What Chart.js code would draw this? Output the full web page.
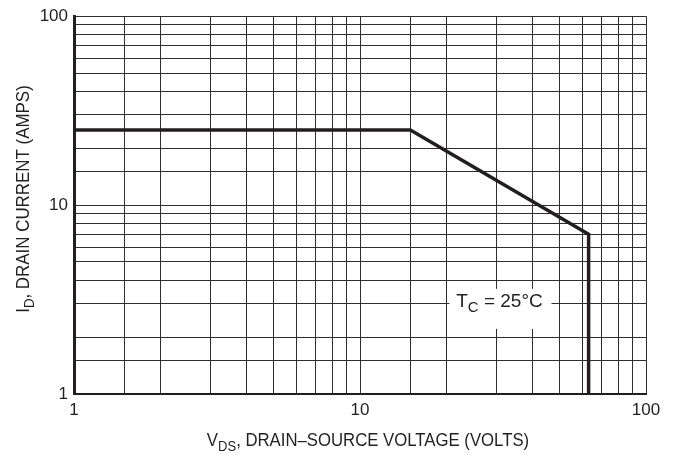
<!DOCTYPE html>
<html>
<head>
<meta charset="utf-8">
<script src="https://cdn.jsdelivr.net/npm/chart.js@4.4.1/dist/chart.umd.min.js"></script>
<style>
  html, body { margin: 0; padding: 0; background: #fff; }
  #wrap { width: 678px; height: 455px; }
</style>
</head>
<body>
<div id="wrap"><canvas id="soa" width="678" height="455"></canvas></div>
<script>
// safe operating area, Tc = 25C
const drainVoltage = [1, 15, 63, 63];
const drainCurrent = [25, 25, 7, 1];

const gridValues = [1, 1.5, 2, 3, 4, 5, 6, 7, 8, 9, 10, 15, 20, 30, 40, 50, 60, 70, 80, 90, 100];
const tickLabels = [1, 10, 100];

const ink = '#231f20';
const fontFamily = "'Liberation Sans', Arial, sans-serif";

// draws centred text made of [string, isSubscript] pieces, slightly condensed
function drawParts(ctx, parts, x, y, size, squeeze) {
    const subSize = Math.round(size * 0.8);
    let total = 0;
    parts.forEach(([s, sub]) => {
        ctx.font = (sub ? subSize : size) + 'px ' + fontFamily;
        total += ctx.measureText(s).width;
    });
    ctx.save();
    ctx.translate(x, y);
    ctx.scale(squeeze, 1);
    let cx = -total / 2;
    parts.forEach(([s, sub]) => {
        ctx.font = (sub ? subSize : size) + 'px ' + fontFamily;
        ctx.fillText(s, cx, sub ? 5 : 0);
        cx += ctx.measureText(s).width;
    });
    ctx.restore();
}

const labelsPlugin = {
    id: 'soaLabels',
    afterDatasetsDraw(chart) {
        const { ctx, scales: { x, y } } = chart;
        ctx.save();
        ctx.textBaseline = 'alphabetic';
        ctx.textAlign = 'left';

        // Tc note with white box
        const px = x.getPixelForValue(30);
        const py = y.getPixelForValue(3);
        ctx.fillStyle = '#fff';
        ctx.fillRect(px - 47, py - 15, 102, 40);
        ctx.fillStyle = ink;
        drawParts(ctx, [['T', false], ['C', true], [' = 25°C', false]], px + 3, py + 3, 19, 1);

        // axis titles
        drawParts(ctx, [['V', false], ['DS', true], [', DRAIN–SOURCE VOLTAGE (VOLTS)', false]], 368, 446, 18, 0.93);
        ctx.translate(29, 199);
        ctx.rotate(-Math.PI / 2);
        drawParts(ctx, [['I', false], ['D', true], [', DRAIN CURRENT (AMPS)', false]], 0, 0, 18, 0.94);
        ctx.restore();
    }
};

function logAxis(extra) {
    return Object.assign({
        type: 'logarithmic',
        min: 1,
        max: 100,
        afterBuildTicks: axis => { axis.ticks = gridValues.map(v => ({ value: v })); },
        grid: { color: '#2e2e2e', lineWidth: 1, drawTicks: false }
    }, extra);
}

new Chart(document.getElementById('soa'), {
    type: 'line',
    data: {
        datasets: [{
            data: drainVoltage.map((v, i) => ({ x: v, y: drainCurrent[i] })),
            borderColor: ink,
            borderWidth: 3.5,
            pointRadius: 0,
            tension: 0,
            fill: false
        }]
    },
    options: {
        responsive: false,
        animation: false,
        layout: { padding: { top: 10, right: 32, left: 0, bottom: 0 } },
        plugins: { legend: { display: false }, tooltip: { enabled: false } },
        scales: {
            x: logAxis({
                ticks: {
                    autoSkip: false, maxRotation: 0, color: ink, padding: 6,
                    font: { family: fontFamily, size: 17 },
                    callback: v => tickLabels.includes(v) ? String(v) : ''
                },
                border: { color: ink, width: 2 },
                afterFit: s => { s.height = 61; }
            }),
            y: logAxis({
                ticks: {
                    autoSkip: false, color: ink, padding: 6,
                    font: { family: fontFamily, size: 17 },
                    callback: v => tickLabels.includes(v) ? String(v) : ''
                },
                border: { color: ink, width: 3 },
                afterFit: s => { s.width = 74; }
            })
        }
    },
    plugins: [labelsPlugin]
});
</script>
</body>
</html>
